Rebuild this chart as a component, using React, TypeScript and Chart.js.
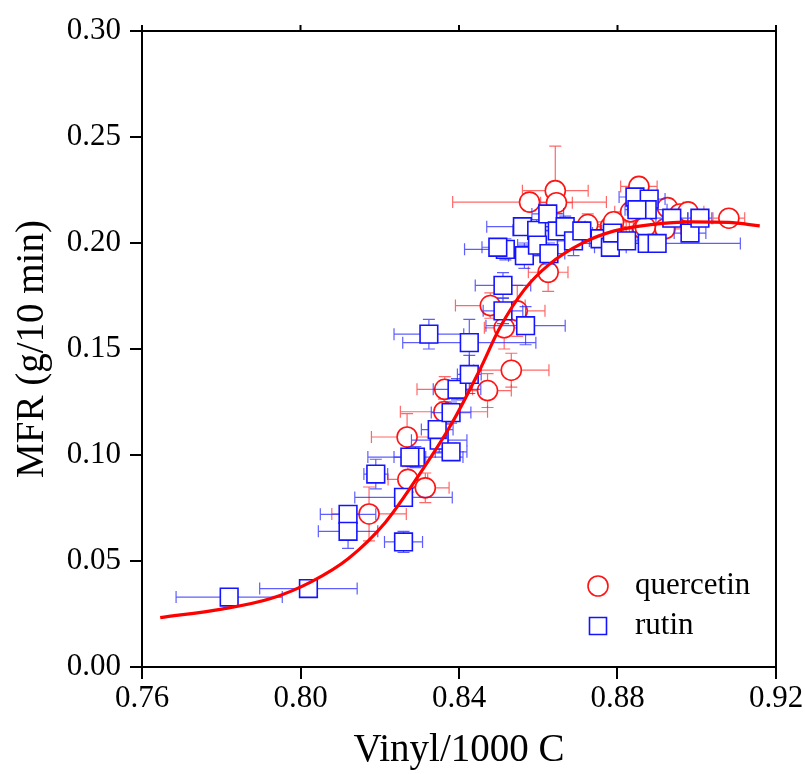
import React, { useEffect, useRef } from "react";
import { Chart, registerables } from "chart.js";

Chart.register(...registerables);

// ---------- data ----------
const xTicks = [0.76, 0.8, 0.84, 0.88, 0.92];
const yTicks = [0, 0.05, 0.1, 0.15, 0.2, 0.25, 0.3];
const legendLabels = ["quercetin", "rutin"];

const quercetinX = [0.8173, 0.8269, 0.8271, 0.8315, 0.8364, 0.8362, 0.8472, 0.8532, 0.8479, 0.8514, 0.8547, 0.8625, 0.8578, 0.8643, 0.8646, 0.8725, 0.8782, 0.8854, 0.8864, 0.8833, 0.8926, 0.8957, 0.8978, 0.9081, 0.892, 0.887, 0.879];
const quercetinY = [0.0722, 0.1085, 0.0885, 0.0845, 0.131, 0.1204, 0.1304, 0.14, 0.1705, 0.16, 0.168, 0.1862, 0.2193, 0.2247, 0.219, 0.2087, 0.2077, 0.2267, 0.2067, 0.2147, 0.2167, 0.2137, 0.2147, 0.2117, 0.2067, 0.2075, 0.21];
const quercetinXErr = [0.0094, 0.009, 0.005, 0.006, 0.007, 0.011, 0.006, 0.0095, 0.0088, 0.005, 0.007, 0.005, 0.0194, 0.0083, 0.004, 0.005, 0.004, 0.0046, 0.005, 0.004, 0.004, 0.004, 0.004, 0.004, 0.004, 0.004, 0.005];
const quercetinYErr = [0.0127, 0.011, 0.006, 0.007, 0.006, 0.006, 0.008, 0.008, 0.006, 0.01, 0.012, 0.009, 0.004, 0.021, 0.005, 0.005, 0.004, 0.004, 0.005, 0.004, 0.004, 0.004, 0.004, 0.003, 0.004, 0.004, 0.004];

const rutinX = [0.782, 0.802, 0.812, 0.812, 0.819, 0.826, 0.826, 0.829, 0.8276, 0.835, 0.8345, 0.838, 0.838, 0.8395, 0.8426, 0.8426, 0.8324, 0.8568, 0.8511, 0.8511, 0.8517, 0.8498, 0.856, 0.8565, 0.8596, 0.8598, 0.8624, 0.8627, 0.8648, 0.8668, 0.8689, 0.871, 0.8756, 0.8782, 0.8787, 0.8823, 0.8844, 0.888, 0.8875, 0.8849, 0.8875, 0.89, 0.8937, 0.8983, 0.9008];
const rutinY = [0.033, 0.037, 0.072, 0.064, 0.091, 0.059, 0.08, 0.099, 0.099, 0.107, 0.112, 0.1015, 0.12, 0.131, 0.138, 0.153, 0.157, 0.161, 0.168, 0.18, 0.197, 0.198, 0.2077, 0.194, 0.206, 0.199, 0.2137, 0.195, 0.2057, 0.2077, 0.201, 0.2057, 0.202, 0.198, 0.2047, 0.201, 0.2217, 0.2207, 0.2157, 0.2157, 0.1998, 0.1998, 0.2117, 0.2047, 0.2117];
const rutinXErr = [0.0134, 0.0123, 0.007, 0.0075, 0.003, 0.0048, 0.0123, 0.012, 0.004, 0.007, 0.004, 0.004, 0.005, 0.006, 0.003, 0.0168, 0.0088, 0.01, 0.005, 0.007, 0.0103, 0.004, 0.009, 0.004, 0.006, 0.005, 0.004, 0.004, 0.006, 0.005, 0.004, 0.005, 0.005, 0.004, 0.005, 0.004, 0.004, 0.004, 0.005, 0.003, 0.004, 0.021, 0.004, 0.004, 0.003];
const rutinYErr = [0.004, 0.003, 0.004, 0.008, 0.007, 0.005, 0.004, 0.005, 0.003, 0.006, 0.004, 0.004, 0.005, 0.005, 0.009, 0.011, 0.007, 0.009, 0.006, 0.006, 0.005, 0.004, 0.004, 0.006, 0.005, 0.005, 0.003, 0.005, 0.004, 0.005, 0.007, 0.004, 0.004, 0.004, 0.004, 0.004, 0.004, 0.004, 0.004, 0.004, 0.004, 0.004, 0.004, 0.004, 0.003];

const fitX = [0.7646, 0.7801, 0.7925, 0.8028, 0.8121, 0.8214, 0.8297, 0.8379, 0.8452, 0.8503, 0.8565, 0.8627, 0.871, 0.8792, 0.8885, 0.8988, 0.9081, 0.9159];
const fitY = [0.0233, 0.0273, 0.0323, 0.0403, 0.0512, 0.0682, 0.09, 0.114, 0.14, 0.16, 0.178, 0.1898, 0.1998, 0.2057, 0.2087, 0.21, 0.2097, 0.2081];

const RED = "rgb(255,20,20)";
const BLUE = "rgb(20,20,255)";
const FONT = "'Liberation Serif', 'Times New Roman', serif";

const toPts = (xs: number[], ys: number[]) => xs.map((x, i) => ({ x, y: ys[i] }));

const errorBarPlugin = {
  id: "errorBars",
  beforeDatasetDraw(chart: any, args: any) {
    const ds = chart.data.datasets[args.index];
    if (!ds.xErr) return;
    const xs = chart.scales.x;
    const ys = chart.scales.y;
    const ctx = chart.ctx;
    const cap = 6;
    ctx.save();
    ctx.strokeStyle = ds.errColor;
    ctx.lineWidth = 1.2;
    ds.data.forEach((p: any, i: number) => {
      const px = xs.getPixelForValue(p.x);
      const py = ys.getPixelForValue(p.y);
      const xl = xs.getPixelForValue(p.x - ds.xErr[i]);
      const xr = xs.getPixelForValue(p.x + ds.xErr[i]);
      const yt = ys.getPixelForValue(p.y + ds.yErr[i]);
      const yb = ys.getPixelForValue(p.y - ds.yErr[i]);
      ctx.beginPath();
      ctx.moveTo(xl, py); ctx.lineTo(xr, py);
      ctx.moveTo(xl, py - cap); ctx.lineTo(xl, py + cap);
      ctx.moveTo(xr, py - cap); ctx.lineTo(xr, py + cap);
      ctx.moveTo(px, yt); ctx.lineTo(px, yb);
      ctx.moveTo(px - cap, yt); ctx.lineTo(px + cap, yt);
      ctx.moveTo(px - cap, yb); ctx.lineTo(px + cap, yb);
      ctx.stroke();
    });
    ctx.restore();
  },
};

const framePlugin = {
  id: "frame",
  afterDraw(chart: any) {
    const { ctx, chartArea } = chart;
    const xs = chart.scales.x;
    ctx.save();
    ctx.strokeStyle = "#000";
    ctx.lineWidth = 2;
    ctx.beginPath();
    ctx.moveTo(chartArea.left, chartArea.top);
    ctx.lineTo(chartArea.right, chartArea.top);
    ctx.lineTo(chartArea.right, chartArea.bottom);
    ctx.stroke();
    ctx.beginPath();
    xTicks.forEach((t) => {
      const px = xs.getPixelForValue(t);
      ctx.moveTo(px, chartArea.top);
      ctx.lineTo(px, chartArea.top - 6);
    });
    ctx.stroke();
    ctx.restore();
  },
};

const legendPlugin = {
  id: "customLegend",
  afterDraw(chart: any) {
    const { ctx } = chart;
    ctx.save();
    legendLabels.forEach((lab, i) => {
      const d = chart.data.datasets.find((x: any) => x.label === lab);
      if (!d) return;
      const cx = 598;
      const cy = 586 + i * 40;
      ctx.strokeStyle = d.borderColor;
      ctx.lineWidth = 1.6;
      ctx.beginPath();
      if (d.pointStyle === "circle") {
        ctx.arc(cx, cy, 10, 0, Math.PI * 2);
      } else {
        ctx.rect(cx - 8.5, cy - 8.5, 17, 17);
      }
      ctx.stroke();
      ctx.fillStyle = "#000";
      ctx.font = `31px ${FONT}`;
      ctx.textBaseline = "middle";
      ctx.textAlign = "left";
      ctx.fillText(d.label, 635, cy);
    });
    ctx.restore();
  },
};

export default function App() {
  const ref = useRef<HTMLCanvasElement | null>(null);
  useEffect(() => {
    if (!ref.current) return;
    const chart = new Chart(ref.current, {
      type: "scatter",
      data: {
        datasets: [
          {
            label: "fit",
            data: toPts(fitX, fitY),
            showLine: true,
            borderColor: "rgb(255,0,0)",
            borderWidth: 3.2,
            pointRadius: 0,
            tension: 0.4,
            cubicInterpolationMode: "monotone",
            order: 0,
          } as any,
          {
            label: "rutin",
            data: toPts(rutinX, rutinY),
            pointStyle: "rect",
            pointRadius: 12.5,
            borderColor: BLUE,
            backgroundColor: "#fff",
            pointBorderWidth: 1.6,
            xErr: rutinXErr,
            yErr: rutinYErr,
            errColor: "rgba(40,40,255,0.75)",
            order: 1,
          } as any,
          {
            label: "quercetin",
            data: toPts(quercetinX, quercetinY),
            pointStyle: "circle",
            pointRadius: 10,
            borderColor: RED,
            backgroundColor: "#fff",
            pointBorderWidth: 1.6,
            xErr: quercetinXErr,
            yErr: quercetinYErr,
            errColor: "rgba(255,40,40,0.7)",
            order: 2,
          } as any,
        ],
      },
      options: {
        animation: false,
        responsive: false,
        devicePixelRatio: 1,
        layout: { padding: { left: 0, top: 31, right: 29, bottom: 0 } },
        plugins: { legend: { display: false }, tooltip: { enabled: false } },
        scales: {
          x: {
            type: "linear",
            min: 0.76,
            max: 0.92,
            afterFit: (s: any) => { s.height = 107; },
            afterBuildTicks: (s: any) => { s.ticks = xTicks.map((v) => ({ value: v })); },
            ticks: {
              callback: (v: any) => Number(v).toFixed(2),
              font: { family: FONT, size: 31 },
              color: "#000",
              padding: 1,
              maxRotation: 0,
            },
            grid: { drawOnChartArea: false, drawTicks: true, tickLength: 12, color: "#000", lineWidth: 2 },
            border: { display: true, color: "#000", width: 2 },
            title: {
              display: true,
              text: "Vinyl/1000 C",
              font: { family: FONT, size: 39 },
              color: "#000",
              padding: { top: 0, bottom: 0 },
            },
          },
          y: {
            type: "linear",
            min: 0,
            max: 0.3,
            afterFit: (s: any) => { s.width = 142; },
            afterBuildTicks: (s: any) => { s.ticks = yTicks.map((v) => ({ value: v })); },
            ticks: {
              callback: (v: any) => Number(v).toFixed(2),
              font: { family: FONT, size: 31 },
              color: "#000",
              padding: 9,
            },
            grid: { drawOnChartArea: false, drawTicks: true, tickLength: 12, color: "#000", lineWidth: 2 },
            border: { display: true, color: "#000", width: 2 },
            title: {
              display: true,
              text: "MFR (g/10 min)",
              font: { family: FONT, size: 39 },
              color: "#000",
              padding: { top: 9, bottom: 0 },
            },
          },
        },
      },
      plugins: [errorBarPlugin, framePlugin, legendPlugin],
    } as any);
    return () => chart.destroy();
  }, []);
  return (
    <div style={{ position: "absolute", left: 0, top: 0, width: 805, height: 774 }}>
      <canvas ref={ref} width={805} height={774} style={{ width: 805, height: 774 }} />
    </div>
  );
}
